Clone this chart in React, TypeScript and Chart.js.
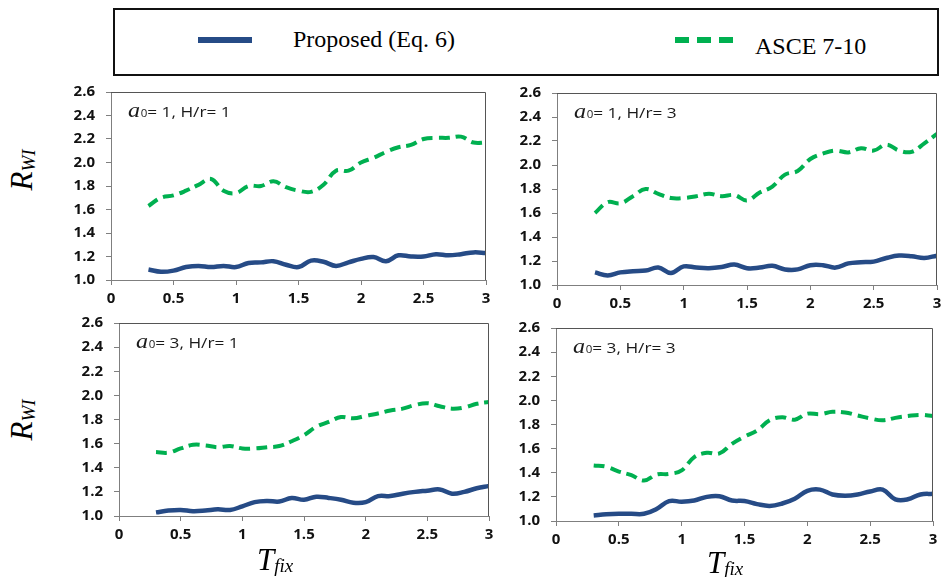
import React, { useEffect, useRef } from "react";
import { Chart, registerables } from "chart.js";

Chart.register(...registerables);

// ---------- data ----------
const tValues = [0.3, 0.4, 0.5, 0.6, 0.7, 0.8, 0.9, 1.0, 1.1, 1.2, 1.3, 1.4, 1.5, 1.6, 1.7, 1.8, 1.9, 2.0, 2.1, 2.2, 2.3, 2.4, 2.5, 2.6, 2.7, 2.8, 2.9, 3.0];

const proposedA1H1 = [1.09, 1.07, 1.08, 1.11, 1.12, 1.11, 1.12, 1.11, 1.145, 1.15, 1.16, 1.13, 1.11, 1.165, 1.155, 1.12, 1.15, 1.18, 1.195, 1.16, 1.21, 1.2, 1.2, 1.22, 1.21, 1.22, 1.235, 1.23];
const asceA1H1 = [1.63, 1.7, 1.72, 1.76, 1.81, 1.86, 1.76, 1.74, 1.8, 1.8, 1.84, 1.79, 1.76, 1.75, 1.81, 1.93, 1.93, 2.0, 2.04, 2.09, 2.13, 2.15, 2.2, 2.21, 2.21, 2.22, 2.17, 2.17];

const proposedA1H3 = [1.105, 1.08, 1.105, 1.115, 1.12, 1.145, 1.1, 1.155, 1.145, 1.14, 1.15, 1.17, 1.14, 1.145, 1.16, 1.13, 1.13, 1.165, 1.165, 1.145, 1.18, 1.19, 1.195, 1.225, 1.245, 1.24, 1.225, 1.245];
const asceA1H3 = [1.6, 1.69, 1.68, 1.74, 1.8, 1.76, 1.725, 1.725, 1.74, 1.76, 1.74, 1.75, 1.705, 1.77, 1.82, 1.92, 1.95, 2.05, 2.095, 2.12, 2.105, 2.14, 2.12, 2.17, 2.12, 2.11, 2.18, 2.26];

const proposedA3H1 = [1.03, 1.045, 1.05, 1.04, 1.045, 1.055, 1.05, 1.08, 1.115, 1.125, 1.12, 1.15, 1.135, 1.16, 1.15, 1.135, 1.11, 1.115, 1.165, 1.165, 1.185, 1.2, 1.21, 1.22, 1.185, 1.2, 1.23, 1.25];
const asceA3H1 = [1.53, 1.525, 1.56, 1.59, 1.585, 1.57, 1.58, 1.56, 1.56, 1.57, 1.58, 1.62, 1.67, 1.74, 1.78, 1.82, 1.81, 1.83, 1.85, 1.875, 1.89, 1.92, 1.935, 1.91, 1.89, 1.9, 1.93, 1.945];

const proposedA3H3 = [1.045, 1.055, 1.06, 1.06, 1.06, 1.1, 1.165, 1.16, 1.17, 1.2, 1.205, 1.17, 1.165, 1.14, 1.125, 1.145, 1.185, 1.25, 1.26, 1.22, 1.21, 1.22, 1.245, 1.26, 1.18, 1.18, 1.22, 1.225];
const asceA3H3 = [1.46, 1.45, 1.41, 1.38, 1.335, 1.385, 1.39, 1.42, 1.53, 1.565, 1.56, 1.64, 1.7, 1.75, 1.835, 1.86, 1.84, 1.89, 1.885, 1.905, 1.9, 1.875, 1.85, 1.835, 1.855, 1.87, 1.88, 1.87];

const a0Values = ["1", "1", "3", "3"];
const hrValues = ["1", "3", "1", "3"];
const xTickStep = 0.5;
const yTickStep = 0.2;
const legendLabels = ["Proposed (Eq. 6)", "ASCE 7-10"];

// ---------- styles ----------
const BLUE = "#264B86";
const GREEN = "#00B050";
const AXIS = "#7f7f7f";
const TICK_FONT = { family: "'Open Sans'", size: 15, weight: "bold" };
const PADL = 64;
const PADT = 24;
const PADR = 16;
const PADB = 36;

type Area = { left: number; top: number; right: number; bottom: number };

const areas: Area[] = [
  { left: 111, top: 92, right: 486, bottom: 280 },
  { left: 557, top: 93, right: 937, bottom: 285 },
  { left: 119, top: 323, right: 489, bottom: 516 },
  { left: 556, top: 328, right: 933, bottom: 521 },
];

const seriesSets = [
  [proposedA1H1, asceA1H1],
  [proposedA1H3, asceA1H3],
  [proposedA3H1, asceA3H1],
  [proposedA3H3, asceA3H3],
];

const framePlugin = {
  id: "frame",
  afterDraw(chart: any) {
    const { ctx, chartArea } = chart;
    ctx.save();
    ctx.strokeStyle = "#555";
    ctx.lineWidth = 1;
    ctx.beginPath();
    ctx.moveTo(chartArea.left, chartArea.top + 0.5);
    ctx.lineTo(chartArea.right - 0.5, chartArea.top + 0.5);
    ctx.lineTo(chartArea.right - 0.5, chartArea.bottom);
    ctx.stroke();
    ctx.restore();
  },
};

function makeAnnotationPlugin(a0: string, hr: string) {
  return {
    id: "caseLabel",
    afterDraw(chart: any) {
      const { ctx, chartArea } = chart;
      const x0 = chartArea.left + 17;
      const base = chartArea.top + 25;
      ctx.save();
      ctx.translate(x0, base);
      ctx.scale(1.15, 1);
      ctx.fillStyle = "#1a1a1a";
      ctx.textBaseline = "alphabetic";
      ctx.textAlign = "left";
      ctx.font = 'italic 21px "Liberation Serif"';
      ctx.fillText("a", 0, 0);
      let x = ctx.measureText("a").width + 0.5;
      ctx.font = "10px 'Open Sans'";
      ctx.fillText("0", x, 0);
      x += ctx.measureText("0").width;
      ctx.font = "15px 'Open Sans'";
      ctx.fillText(`= ${a0}, H/r= ${hr}`, x, 0);
      ctx.restore();
    },
  };
}

function Panel({ idx }: { idx: number }) {
  const ref = useRef<HTMLCanvasElement>(null);
  const area = areas[idx];
  const w = area.right - area.left + PADL + PADR;
  const h = area.bottom - area.top + PADT + PADB;
  useEffect(() => {
    if (!ref.current) return;
    const [prop, asce] = seriesSets[idx];
    const chart = new Chart(ref.current, {
      type: "line",
      data: {
        datasets: [
          {
            label: legendLabels[0],
            data: tValues.map((x, i) => ({ x, y: prop[i] })),
            borderColor: BLUE,
            backgroundColor: BLUE,
            borderWidth: 4.5,
            pointRadius: 0,
            tension: 0.4,
            fill: false,
          },
          {
            label: legendLabels[1],
            data: tValues.map((x, i) => ({ x, y: asce[i] })),
            borderColor: GREEN,
            backgroundColor: GREEN,
            borderWidth: 4,
            borderDash: [11, 6],
            pointRadius: 0,
            tension: 0.4,
            fill: false,
          },
        ],
      },
      options: {
        animation: false,
        responsive: false,
        maintainAspectRatio: false,
        layout: { padding: { left: 0, top: PADT, right: PADR, bottom: 0 } },
        plugins: { legend: { display: false }, tooltip: { enabled: false } },
        scales: {
          x: {
            type: "linear",
            min: 0,
            max: 3,
            afterFit: (s: any) => {
              s.height = PADB;
            },
            ticks: {
              stepSize: xTickStep,
              font: TICK_FONT,
              color: "#111",
              padding: 5,
              maxRotation: 0,
              autoSkip: false,
              callback: (v: any) => String(Number(Number(v).toFixed(1))),
            },
            grid: { drawOnChartArea: false, drawTicks: true, tickLength: 5, tickColor: AXIS },
            border: { color: AXIS, width: 1 },
          },
          y: {
            type: "linear",
            min: 1,
            max: 2.6,
            afterFit: (s: any) => {
              s.width = PADL;
            },
            ticks: {
              stepSize: yTickStep,
              font: TICK_FONT,
              color: "#111",
              padding: 11,
              callback: (v: any) => Number(v).toFixed(1),
            },
            grid: { drawOnChartArea: false, drawTicks: true, tickLength: 5, tickColor: AXIS },
            border: { color: AXIS, width: 1 },
          },
        },
      },
      plugins: [framePlugin, makeAnnotationPlugin(a0Values[idx], hrValues[idx])],
    } as any);
    return () => chart.destroy();
  }, [idx]);
  return (
    <canvas
      ref={ref}
      width={w}
      height={h}
      style={{ position: "absolute", left: area.left - PADL, top: area.top - PADT, width: w, height: h }}
    />
  );
}

const serif = '"Liberation Serif", "Times New Roman", serif';

function RLabel({ cx, cy }: { cx: number; cy: number }) {
  return (
    <div
      style={{
        position: "absolute",
        left: cx,
        top: cy,
        transform: "translate(-50%, -50%) rotate(-90deg)",
        whiteSpace: "nowrap",
        fontFamily: serif,
        fontStyle: "italic",
        lineHeight: "30px",
        color: "#000",
      }}
    >
      <span style={{ fontSize: 31 }}>R</span>
      <span style={{ fontSize: 19, position: "relative", top: 3 }}>WI</span>
    </div>
  );
}

function TLabel({ left, top }: { left: number; top: number }) {
  return (
    <div
      style={{
        position: "absolute",
        left,
        top,
        whiteSpace: "nowrap",
        fontFamily: serif,
        fontStyle: "italic",
        lineHeight: "30px",
        color: "#000",
      }}
    >
      <span style={{ fontSize: 31 }}>T</span>
      <span style={{ fontSize: 19, position: "relative", top: 2 }}>fix</span>
    </div>
  );
}

export default function App() {
  return (
    <div
      style={{
        position: "fixed",
        left: 0,
        top: 0,
        width: 941,
        height: 577,
        overflow: "hidden",
        background: "#fff",
      }}
    >
      {/* legend */}
      <div
        style={{
          position: "absolute",
          left: 113,
          top: 8,
          width: 826,
          height: 68,
          border: "2px solid #111",
          boxSizing: "border-box",
        }}
      />
      <div style={{ position: "absolute", left: 198, top: 37, width: 54, height: 6, background: BLUE }} />
      <div
        style={{
          position: "absolute",
          left: 293,
          top: 27,
          fontFamily: serif,
          fontSize: 24,
          lineHeight: "24px",
          whiteSpace: "nowrap",
          color: "#000",
        }}
      >
        {legendLabels[0]}
      </div>
      <div style={{ position: "absolute", left: 675, top: 37, width: 14, height: 6, background: GREEN }} />
      <div style={{ position: "absolute", left: 697, top: 37, width: 14, height: 6, background: GREEN }} />
      <div style={{ position: "absolute", left: 719, top: 37, width: 14, height: 6, background: GREEN }} />
      <div
        style={{
          position: "absolute",
          left: 755,
          top: 34,
          fontFamily: serif,
          fontSize: 24,
          lineHeight: "24px",
          whiteSpace: "nowrap",
          color: "#000",
        }}
      >
        {legendLabels[1]}
      </div>

      {[0, 1, 2, 3].map((i) => (
        <Panel key={i} idx={i} />
      ))}

      <RLabel cx={24} cy={170} />
      <RLabel cx={24} cy={420} />
      <TLabel left={257} top={545} />
      <TLabel left={707} top={548} />
    </div>
  );
}
